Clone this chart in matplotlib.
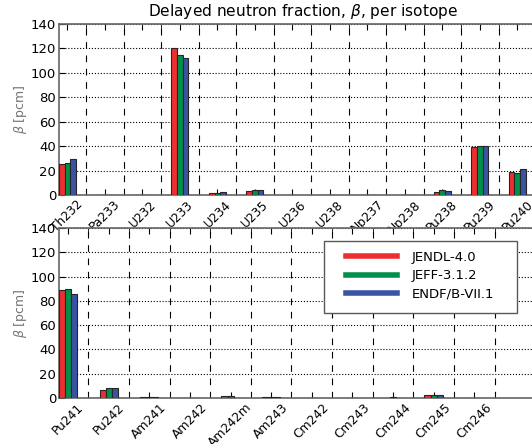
import matplotlib
matplotlib.use('Agg')
import matplotlib.pyplot as plt
from matplotlib.lines import Line2D
from matplotlib.patches import Rectangle
import numpy as np

# isotopes, upper panel
isotopes_top = ['Th232', 'Pa233', 'U232', 'U233', 'U234', 'U235', 'U236',
                'U238', 'Np237', 'Np238', 'Pu238', 'Pu239', 'Pu240']
jendl_top = [25.3, 0.2, 0.3, 120.0, 1.8, 3.6, 0.2, 0.2, 0.4, 0.1, 2.8, 39.5, 18.7]
jeff_top = [26.0, 0.2, 0.3, 114.7, 2.0, 3.7, 0.2, 0.2, 0.4, 0.1, 3.8, 40.2, 18.4]
endf_top = [29.3, 0.2, 0.3, 112.6, 2.5, 3.7, 0.2, 0.2, 0.4, 0.1, 2.9, 39.8, 21.2]

# isotopes, lower panel
isotopes_bot = ['Pu241', 'Pu242', 'Am241', 'Am242', 'Am242m', 'Am243',
                'Cm242', 'Cm243', 'Cm244', 'Cm245', 'Cm246']
jendl_bot = [88.7, 6.6, 0.6, 0.1, 1.5, 0.5, 0.0, 0.0, 0.2, 2.6, 0.0]
jeff_bot = [89.5, 8.5, 0.6, 0.1, 1.5, 0.5, 0.0, 0.0, 0.6, 2.6, 0.0]
endf_bot = [85.4, 8.0, 0.6, 0.1, 0.1, 0.5, 0.0, 0.0, 0.2, 2.6, 0.0]

libraries = ['JENDL-4.0', 'JEFF-3.1.2', 'ENDF/B-VII.1']
colors = ['#EE2E2F', '#00904A', '#3A53A4']

width = 0.15
W, H = 532, 444

fig = plt.figure(figsize=(W / 100, H / 100), dpi=100)
ax1 = fig.add_axes([0.1109, 0.5608, 0.916, 0.385])
ax2 = fig.add_axes([0.1109, 0.1036, 0.916, 0.383])


def draw_panel(ax, names, series, nslots):
    x = np.arange(len(names))
    for k, vals in enumerate(series):
        ax.bar(x + k * width, vals, width, align='edge', color=colors[k],
               edgecolor='0.15', linewidth=0.8, zorder=3)
    ax.set_xlim(0, nslots)
    ax.set_ylim(0, 140)
    ax.set_yticks(range(0, 141, 20))
    ax.tick_params(axis='both', which='both', direction='in', top=True,
                   right=True, labelsize=9.5, length=4)
    ax.tick_params(axis='x', which='major', pad=2)
    ax.tick_params(axis='y', which='major', pad=2)
    ax.set_xticks(np.arange(nslots) + 0.725, minor=True)
    ax.grid(axis='y', which='major', linestyle=':', color='k', linewidth=0.8)
    ax.grid(axis='x', which='minor', linestyle='--', color='k', linewidth=0.8,
            dashes=(6, 6))
    ax.set_ylabel(r'$\beta$ [pcm]', color='0.45', fontsize=9, labelpad=1)
    for s in ax.spines.values():
        s.set_color('0.4')
        s.set_linewidth(1.2)
    ax.set_xticks(x + 1.5 * width)
    ax.set_xticklabels(names, rotation=45, ha='center', fontsize=8.8)


draw_panel(ax1, isotopes_top, [jendl_top, jeff_top, endf_top], 13)
draw_panel(ax2, isotopes_bot, [jendl_bot, jeff_bot, endf_bot], 12)

ax1.set_title(r'Delayed neutron fraction, $\beta$, per isotope', fontsize=11.1)

# legend frame drawn separately so the side padding can be wider than the top
frame = Rectangle((324 / W, 1 - 313 / H), (517 - 324) / W, (313 - 241) / H,
                  transform=fig.transFigure, facecolor='white',
                  edgecolor='0.35', linewidth=1.0, clip_on=False, zorder=4.9)
ax2.add_patch(frame)

lines = [Line2D([], [], color=c, linewidth=4) for c in colors]
leg = ax2.legend(lines, libraries, loc='upper left',
                 bbox_to_anchor=(346 / W, 1 - 251 / H),
                 bbox_transform=fig.transFigure, borderaxespad=0,
                 borderpad=0, frameon=False, fontsize=9.5, handlelength=3.9,
                 labelspacing=0.4, handletextpad=1.06)
leg.set_zorder(5)

for lab in ax1.get_xticklabels() + ax2.get_xticklabels():
    lab.set_rotation(45)
    lab.set_ha('center')

plt.savefig('out.png', dpi=100)
plt.close()
